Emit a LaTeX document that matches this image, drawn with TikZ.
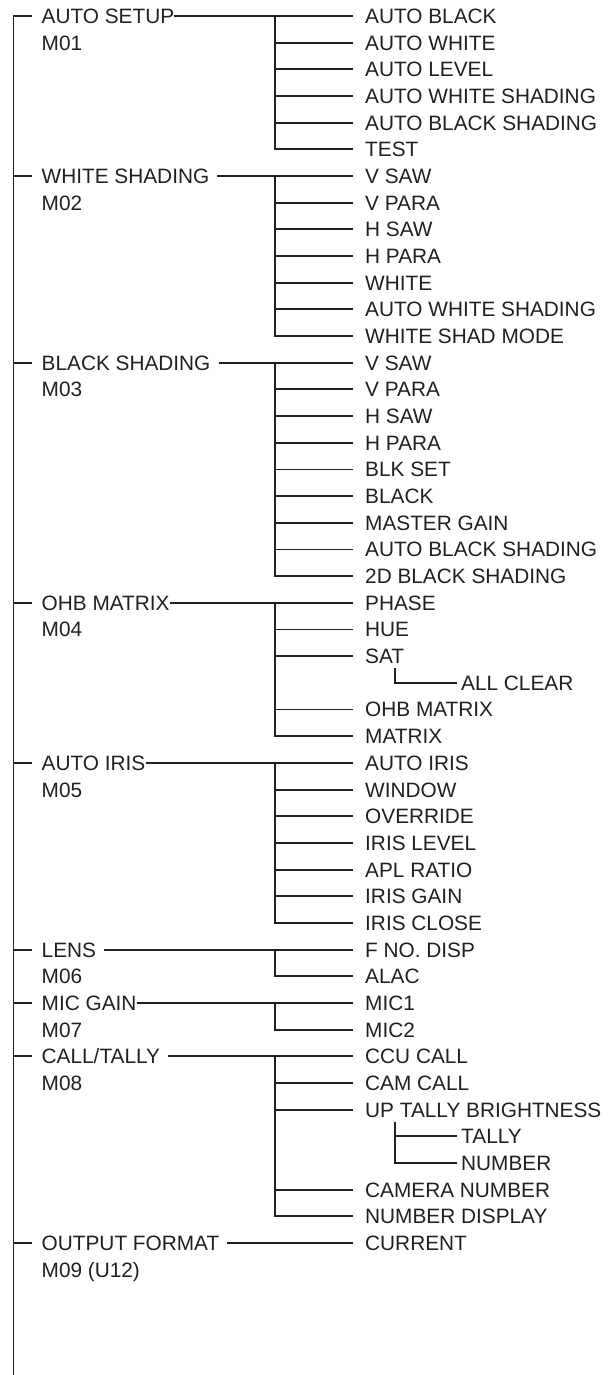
\documentclass[tikz,border=0pt]{standalone}
\usepackage{fontspec}
\setmainfont{Liberation Sans}
\definecolor{ink}{HTML}{231F20}
\newcommand\lblfont{\fontsize{20.8}{24}\selectfont}
\newcommand\ry[1]{16+26.674*(#1)}
\tikzset{
  lbl/.style={anchor=west, inner sep=0pt, text height=14.9pt, text depth=0pt, font=\lblfont, text=ink},
  conn/.style={line width=1.9pt, draw=ink},
}
\begin{document}
\begin{tikzpicture}[x=1pt,y=-1pt]
\useasboundingbox (0,0) rectangle (613,1375);
% ---------- main labels ----------
\node[lbl] (g1) at (41.5,{\ry{0}}) {AUTO SETUP};
\node[lbl] (m1) at (41.5,{\ry{1}}) {M01};
\node[lbl] (g2) at (41.5,{\ry{6}}) {WHITE SHADING};
\node[lbl] (m2) at (41.5,{\ry{7}}) {M02};
\node[lbl] (g3) at (41.5,{\ry{13}}) {BLACK SHADING};
\node[lbl] (m3) at (41.5,{\ry{14}}) {M03};
\node[lbl] (g4) at (41.5,{\ry{22}}) {OHB MATRIX};
\node[lbl] (m4) at (41.5,{\ry{23}}) {M04};
\node[lbl] (g5) at (41.5,{\ry{28}}) {AUTO IRIS};
\node[lbl] (m5) at (41.5,{\ry{29}}) {M05};
\node[lbl] (g6) at (41.5,{\ry{35}}) {LENS};
\node[lbl] (m6) at (41.5,{\ry{36}}) {M06};
\node[lbl] (g7) at (41.5,{\ry{37}}) {MIC GAIN};
\node[lbl] (m7) at (41.5,{\ry{38}}) {M07};
\node[lbl] (g8) at (41.5,{\ry{39}}) {CALL/TALLY};
\node[lbl] (m8) at (41.5,{\ry{40}}) {M08};
\node[lbl] (g9) at (41.5,{\ry{46}}) {OUTPUT FORMAT};
\node[lbl] (m9) at (41.5,{\ry{47}}) {M09 (U12)};
% ---------- spine ----------
\coordinate (sp) at (13.5,{\ry{0}});
\coordinate (bot) at (13.5,1375);
\draw[conn] (bot) |- ([xshift=-9.5pt]g1.west);
\foreach \g in {2,...,9}
  \draw[conn] (sp |- g\g.west) -- ([xshift=-9.5pt]g\g.west);
% ---------- group 1 ----------
\foreach \t [count=\k from 0] in {AUTO BLACK, AUTO WHITE, AUTO LEVEL, AUTO WHITE SHADING, AUTO BLACK SHADING, TEST}
  \node[lbl] (a\k) at (365,{\ry{0+\k}}) {\t};
\coordinate (b1) at (275,{\ry{0}});
\draw[conn] (g1.east) -- ([xshift=-12pt]a0.west);
\draw[conn] (b1) |- ([xshift=-12pt]a5.west);
\foreach \k in {1,...,4} \draw[conn] (b1 |- a\k.west) -- ([xshift=-12pt]a\k.west);
% ---------- group 2 ----------
\foreach \t [count=\k from 0] in {V SAW, V PARA, H SAW, H PARA, WHITE, AUTO WHITE SHADING, WHITE SHAD MODE}
  \node[lbl] (w\k) at (365,{\ry{6+\k}}) {\t};
\coordinate (b2) at (275,{\ry{6}});
\draw[conn] ([xshift=8pt]g2.east) -- ([xshift=-12pt]w0.west);
\draw[conn] (b2) |- ([xshift=-12pt]w6.west);
\foreach \k in {1,...,5} \draw[conn] (b2 |- w\k.west) -- ([xshift=-12pt]w\k.west);
% ---------- group 3 ----------
\foreach \t [count=\k from 0] in {V SAW, V PARA, H SAW, H PARA, BLK SET, BLACK, MASTER GAIN, AUTO BLACK SHADING, 2D BLACK SHADING}
  \node[lbl] (k\k) at (365,{\ry{13+\k}}) {\t};
\coordinate (b3) at (275,{\ry{13}});
\draw[conn] ([xshift=8pt]g3.east) -- ([xshift=-12pt]k0.west);
\draw[conn] (b3) |- ([xshift=-12pt]k8.west);
\foreach \k in {1,...,7} \draw[conn] (b3 |- k\k.west) -- ([xshift=-12pt]k\k.west);
% ---------- group 4 ----------
\node[lbl] (o0) at (365,{\ry{22}}) {PHASE};
\node[lbl] (o1) at (365,{\ry{23}}) {HUE};
\node[lbl] (o2) at (365,{\ry{24}}) {SAT};
\node[lbl] (oac) at (461,{\ry{25}}) {ALL CLEAR};
\node[lbl] (o3) at (365,{\ry{26}}) {OHB MATRIX};
\node[lbl] (o4) at (365,{\ry{27}}) {MATRIX};
\coordinate (b4) at (275,{\ry{22}});
\draw[conn] (g4.east) -- ([xshift=-12pt]o0.west);
\draw[conn] (b4) |- ([xshift=-12pt]o4.west);
\foreach \k in {1,...,3} \draw[conn] (b4 |- o\k.west) -- ([xshift=-12pt]o\k.west);
\coordinate (c4) at (395,{\ry{24}+12});
\draw[conn] (c4) |- ([xshift=-4pt]oac.west);
% ---------- group 5 ----------
\foreach \t [count=\k from 0] in {AUTO IRIS, WINDOW, OVERRIDE, IRIS LEVEL, APL RATIO, IRIS GAIN, IRIS CLOSE}
  \node[lbl] (i\k) at (365,{\ry{28+\k}}) {\t};
\coordinate (b5) at (275,{\ry{28}});
\draw[conn] (g5.east) -- ([xshift=-12pt]i0.west);
\draw[conn] (b5) |- ([xshift=-12pt]i6.west);
\foreach \k in {1,...,5} \draw[conn] (b5 |- i\k.west) -- ([xshift=-12pt]i\k.west);
% ---------- group 6 ----------
\node[lbl] (l0) at (365,{\ry{35}}) {F NO. DISP};
\node[lbl] (l1) at (365,{\ry{36}}) {ALAC};
\coordinate (b6) at (275,{\ry{35}});
\draw[conn] ([xshift=8pt]g6.east) -- ([xshift=-12pt]l0.west);
\draw[conn] (b6) |- ([xshift=-12pt]l1.west);
% ---------- group 7 ----------
\node[lbl] (n0) at (365,{\ry{37}}) {MIC1};
\node[lbl] (n1) at (365,{\ry{38}}) {MIC2};
\coordinate (b7) at (275,{\ry{37}});
\draw[conn] (g7.east) -- ([xshift=-12pt]n0.west);
\draw[conn] (b7) |- ([xshift=-12pt]n1.west);
% ---------- group 8 ----------
\node[lbl] (t0) at (365,{\ry{39}}) {CCU CALL};
\node[lbl] (t1) at (365,{\ry{40}}) {CAM CALL};
\node[lbl] (t2) at (365,{\ry{41}}) {UP TALLY BRIGHTNESS};
\node[lbl] (tt) at (461,{\ry{42}}) {TALLY};
\node[lbl] (tn) at (461,{\ry{43}}) {NUMBER};
\node[lbl] (t3) at (365,{\ry{44}}) {CAMERA NUMBER};
\node[lbl] (t4) at (365,{\ry{45}}) {NUMBER DISPLAY};
\coordinate (b8) at (275,{\ry{39}});
\draw[conn] ([xshift=8pt]g8.east) -- ([xshift=-12pt]t0.west);
\draw[conn] (b8) |- ([xshift=-12pt]t4.west);
\foreach \k in {1,...,3} \draw[conn] (b8 |- t\k.west) -- ([xshift=-12pt]t\k.west);
\coordinate (c8) at (395,{\ry{41}+12});
\draw[conn] (c8) |- ([xshift=-4pt]tn.west);
\draw[conn] (c8 |- tt.west) -- ([xshift=-4pt]tt.west);
% ---------- group 9 ----------
\node[lbl] (u0) at (365,{\ry{46}}) {CURRENT};
\draw[conn] ([xshift=8pt]g9.east) -- ([xshift=-12pt]u0.west);
\end{tikzpicture}
\end{document}
